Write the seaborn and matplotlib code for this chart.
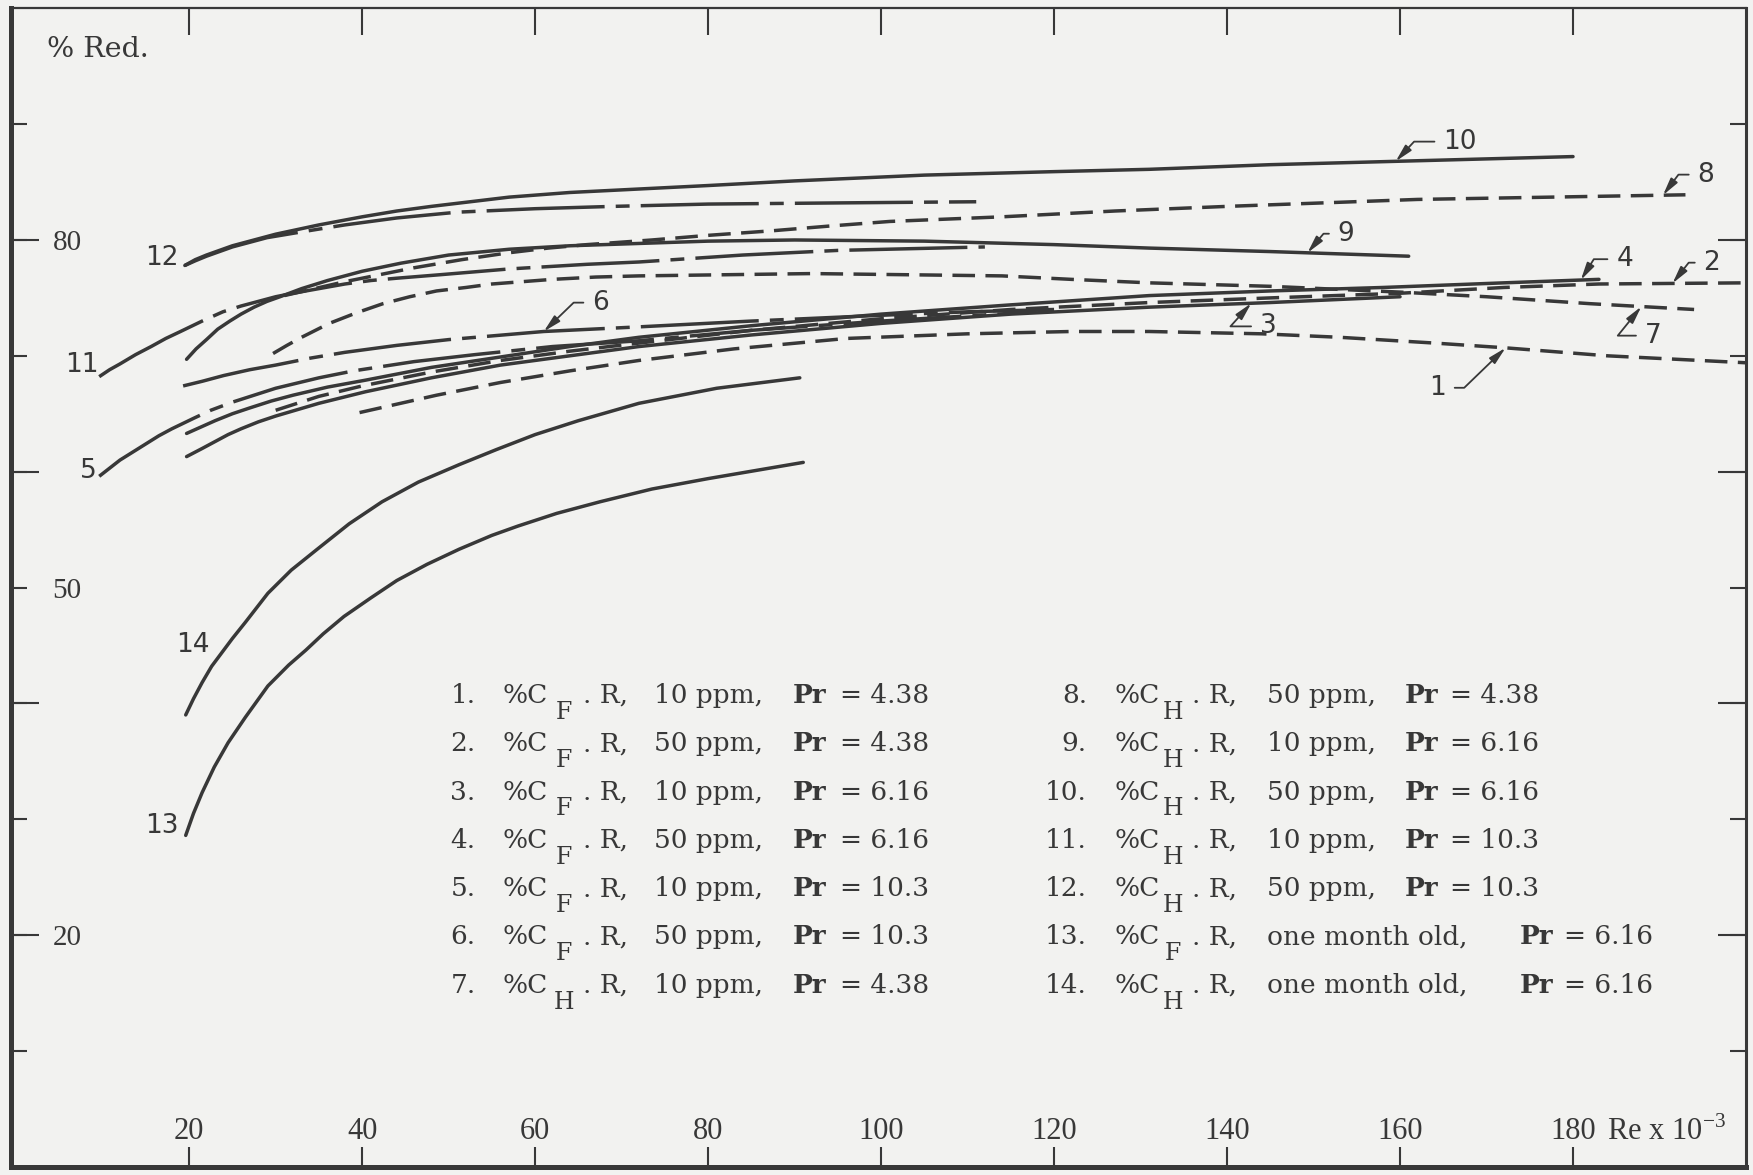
import numpy as np
import pandas as pd
import seaborn as sns
import matplotlib.pyplot as plt
from matplotlib.ticker import FixedLocator, FixedFormatter

sns.set_theme(style="white")
plt.rcParams['font.family'] = ['DejaVu Serif', 'DejaVu Sans']

ink = '#383838'
paper = '#f2f2f0'

# Re x 10^-3  vs  % reduction (one pair per curve)
re_1 = [39.7, 48.6, 56, 64, 72, 83, 96, 110, 122, 131, 144, 153, 164, 172, 184, 200]
red_1 = [65.1, 66.6, 67.7, 68.7, 69.6, 70.6, 71.5, 71.9, 72.1, 72.1, 71.9, 71.6, 71.1, 70.7, 70.0, 69.4]
re_2 = [30, 35, 40, 48, 56, 64, 72, 85, 100, 115, 131, 145, 160, 172, 183, 200]
red_2 = [65.3, 66.5, 67.4, 68.6, 69.6, 70.4, 71.1, 72.2, 73.2, 74.0, 74.6, 75.0, 75.4, 75.9, 76.2, 76.3]
re_3 = [19.7, 21.5, 23, 24.5, 26, 28, 30, 35, 40.4, 48, 56, 64, 72, 85, 100, 115, 131, 145, 160]
red_3 = [61.3, 62.0, 62.6, 63.2, 63.7, 64.3, 64.8, 65.9, 66.9, 68.1, 69.2, 70.0, 70.8, 71.8, 72.8, 73.6, 74.2, 74.6, 75.1]
re_4 = [19.7, 21.5, 23, 25, 27, 29.5, 32, 36, 40.4, 48, 56, 64, 72, 85, 100, 115, 131, 145, 158, 172, 183]
red_4 = [63.3, 63.9, 64.4, 65.0, 65.5, 66.1, 66.6, 67.3, 67.9, 69.0, 69.9, 70.8, 71.6, 72.6, 73.6, 74.4, 75.2, 75.6, 75.9, 76.3, 76.6]
re_5 = [9.6, 10.8, 12, 13.5, 15, 16.5, 18, 20.5, 22.5, 25, 27.5, 30, 35, 39, 46, 53, 62, 72, 85, 100, 118]
red_5 = [59.6, 60.3, 61.0, 61.7, 62.4, 63.1, 63.7, 64.6, 65.3, 66.0, 66.6, 67.2, 68.1, 68.7, 69.5, 70.1, 70.8, 71.3, 72.2, 73.0, 73.8]
re_6 = [19.3, 21.5, 24, 27, 30, 34, 38, 44, 50, 61, 72, 85, 100, 110, 120]
red_6 = [67.4, 67.8, 68.3, 68.8, 69.2, 69.8, 70.3, 70.9, 71.4, 72.1, 72.5, 73.0, 73.5, 73.8, 74.0]
re_7 = [29.7, 31.3, 33, 34.6, 36.2, 39.3, 42.4, 45.5, 48.6, 52, 55, 58.5, 62, 67, 72, 82, 92, 103, 114, 122, 131, 145, 160, 170, 182, 194]
red_7 = [70.2, 70.9, 71.6, 72.2, 72.8, 73.7, 74.5, 75.1, 75.6, 75.9, 76.2, 76.4, 76.6, 76.8, 76.9, 77.0, 77.1, 77.0, 76.9, 76.6, 76.3, 76.0, 75.5, 75.1, 74.5, 74.0]
re_8 = [31, 34.5, 38, 42, 46, 51.5, 57, 61.5, 66, 73.5, 80, 87.5, 94, 101, 114, 127, 140, 162, 193]
red_8 = [75.2, 75.8, 76.4, 77.0, 77.6, 78.3, 78.9, 79.3, 79.6, 80.0, 80.4, 80.8, 81.2, 81.6, 82.0, 82.5, 82.9, 83.5, 83.9]
re_9 = [19.7, 20.8, 22, 23.3, 24.7, 26, 27.5, 29, 30.5, 33, 36, 40, 44.5, 50, 57, 64, 72, 80, 90, 105, 120, 131, 145, 161]
red_9 = [69.7, 70.6, 71.4, 72.3, 73.0, 73.6, 74.2, 74.7, 75.1, 75.8, 76.5, 77.3, 78.0, 78.7, 79.2, 79.5, 79.7, 79.9, 80.0, 79.9, 79.6, 79.3, 79.0, 78.6]
re_10 = [19.5, 20.7, 22, 23.5, 25, 27.5, 30, 32.5, 35, 40, 44, 48, 52.5, 57, 64, 72, 80, 90, 105, 120, 131, 145, 160, 180]
red_10 = [77.8, 78.3, 78.7, 79.1, 79.5, 80.0, 80.5, 80.9, 81.3, 82.0, 82.5, 82.9, 83.3, 83.7, 84.1, 84.4, 84.7, 85.1, 85.6, 85.9, 86.1, 86.5, 86.8, 87.2]
re_11 = [9.6, 10.8, 12, 13.8, 15.6, 17.3, 19, 21.5, 23.9, 26, 28, 30, 32, 35, 38, 41, 44, 49, 57, 66, 72, 84, 95, 112]
red_11 = [68.2, 68.8, 69.3, 70.1, 70.8, 71.5, 72.1, 73.0, 73.8, 74.3, 74.7, 75.1, 75.4, 75.8, 76.2, 76.5, 76.7, 77.0, 77.5, 77.9, 78.1, 78.7, 79.1, 79.4]
re_12 = [19.5, 20.7, 22, 23.5, 25, 27, 29, 33, 38, 44, 51, 60, 69, 80, 95, 111]
red_12 = [77.8, 78.2, 78.6, 79.0, 79.4, 79.8, 80.2, 80.7, 81.3, 81.9, 82.4, 82.7, 82.9, 83.1, 83.2, 83.3]
re_13 = [19.6, 20.5, 21.5, 22.9, 24.5, 26.5, 29.1, 31.5, 33.5, 35.5, 37.9, 41, 44, 47.5, 51.2, 55, 58, 62.5, 67.5, 73.5, 80, 85.5, 91]
red_13 = [28.6, 30.5, 32.3, 34.5, 36.6, 38.8, 41.5, 43.3, 44.6, 46.0, 47.5, 49.1, 50.6, 52.0, 53.3, 54.5, 55.3, 56.4, 57.4, 58.5, 59.4, 60.1, 60.8]
re_14 = [19.6, 20.5, 21.5, 22.6, 23.8, 25, 26.5, 29.1, 31.8, 34.8, 38.5, 42.3, 46.5, 51.2, 55.5, 60, 65, 72, 81, 90.6]
red_14 = [39.0, 40.4, 41.8, 43.2, 44.4, 45.6, 47.0, 49.5, 51.5, 53.3, 55.5, 57.4, 59.1, 60.6, 61.9, 63.2, 64.4, 65.9, 67.2, 68.1]

# what each curve is (legend block)
curve_coef = ['F', 'F', 'F', 'F', 'F', 'F', 'H', 'H', 'H', 'H', 'H', 'H', 'F', 'H']
curve_cond = ['10 ppm,', '50 ppm,', '10 ppm,', '50 ppm,', '10 ppm,', '50 ppm,', '10 ppm,',
              '50 ppm,', '10 ppm,', '50 ppm,', '10 ppm,', '50 ppm,', 'one month old,', 'one month old,']
curve_pr = ['4.38', '4.38', '6.16', '6.16', '10.3', '10.3', '4.38',
            '4.38', '6.16', '6.16', '10.3', '10.3', '6.16', '6.16']

x_ticks = [20, 40, 60, 80, 100, 120, 140, 160, 180]
y_ticks = [10, 20, 30, 40, 50, 60, 70, 80, 90]
y_tick_labels = ['', '20', '', '', '50', '', '', '80', '']

re_all = [re_1, re_2, re_3, re_4, re_5, re_6, re_7, re_8, re_9, re_10, re_11, re_12, re_13, re_14]
red_all = [red_1, red_2, red_3, red_4, red_5, red_6, red_7, red_8, red_9, red_10, red_11, red_12, red_13, red_14]

frames = []
for i, (xs, ys) in enumerate(zip(re_all, red_all)):
    frames.append(pd.DataFrame({'curve': i + 1, 'Re': xs, 'red': ys, 'Pr': curve_pr[i]}))
df = pd.concat(frames, ignore_index=True)

fig = plt.figure(figsize=(17.53, 11.75), dpi=100, facecolor=paper)
ax = fig.add_axes([11 / 1753, 8.3 / 1175, 1735 / 1753, 1158.4 / 1175])
ax.set_facecolor(paper)

sns.lineplot(data=df, x='Re', y='red', units='curve', estimator=None, sort=False,
             style='Pr', style_order=['4.38', '10.3', '6.16'],
             dashes={'4.38': (6.5, 3.0), '10.3': (34, 3.2, 4, 3.2), '6.16': ''},
             color=ink, lw=2.5, legend=False, ax=ax,
             dash_capstyle='butt', solid_capstyle='round', solid_joinstyle='round')

ax.set_xlim(-0.6, 200)
ax.set_ylim(0, 100)
ax.set_xlabel('')
ax.set_ylabel('')

for side, w in [('left', 3.6), ('bottom', 3.6), ('top', 1.6), ('right', 2.2)]:
    ax.spines[side].set_visible(True)
    ax.spines[side].set_color(ink)
    ax.spines[side].set_linewidth(w)

# x: bottom ticks with labels inside, top ticks a bit longer
ax.xaxis.remove_overlapping_locs = False
ax.xaxis.set_major_locator(FixedLocator(x_ticks))
ax.xaxis.set_major_formatter(FixedFormatter([str(v) for v in x_ticks]))
ax.xaxis.set_minor_locator(FixedLocator(x_ticks))
ax.tick_params(axis='x', which='major', direction='in', bottom=True, top=False,
               length=14.4, width=1.5, color=ink, pad=-27.9, labelsize=22,
               labelcolor=ink, labelfontfamily='Liberation Serif')
ax.tick_params(axis='x', which='minor', direction='in', bottom=False, top=True,
               length=19.5, width=1.5, color=ink)
for lab in ax.get_xticklabels():
    lab.set_verticalalignment('center_baseline')

# y: short ticks every 10, longer ones every 20, on both sides
ax.yaxis.remove_overlapping_locs = False
ax.yaxis.set_major_locator(FixedLocator(y_ticks))
ax.yaxis.set_major_formatter(FixedFormatter(y_tick_labels))
ax.yaxis.set_minor_locator(FixedLocator(y_ticks[1::2]))
ax.tick_params(axis='y', which='major', direction='in', left=True, right=True,
               length=11.5, width=1.5, color=ink, pad=-30, labelsize=21,
               labelcolor=ink, labelfontfamily='Liberation Serif')
ax.tick_params(axis='y', which='minor', direction='in', left=True, right=True,
               length=20, width=1.5, color=ink)
for lab in ax.get_yticklabels():
    lab.set_horizontalalignment('left')

ax.text(3.6, 96.7, '% Red.', fontsize=20.5, color=ink, ha='left', va='center_baseline')
ax.text(183.9, 3.34, r'Re x 10$^{\mathregular{-3}}$', fontsize=22, color=ink,
        family='Liberation Serif', ha='left', va='center_baseline')

# curve numbers at the start of the left-hand curves
for txt, x, y in [('12', 16.8, 78.7), ('11', 7.6, 69.5), ('5', 8.3, 60.3),
                  ('14', 20.4, 45.3), ('13', 16.9, 29.7)]:
    ax.text(x, y, txt, fontsize=19, color=ink, family='DejaVu Sans',
            ha='center', va='center_baseline')

# curve numbers with leader arrows
tags = [(10, 159.5, 165.0, 88.75, 'left', 47), (8, 190.4, 194.4, 85.9, 'left', 53),
        (9, 149.3, 152.8, 80.8, 'left', 50), (4, 180.9, 185.0, 78.6, 'left', 58),
        (2, 191.5, 195.1, 78.3, 'left', 52), (6, 61.0, 66.6, 74.85, 'left', 44),
        (1, 172.2, 165.3, 67.5, 'right', 44), (7, 187.9, 188.3, 72.0, 'left', 51),
        (3, 142.8, 143.8, 72.8, 'left', 48)]
for k, tip_x, tx, ty, ha, ang in tags:
    tip_y = np.interp(tip_x, re_all[k - 1], red_all[k - 1])
    ax.annotate(str(k), xy=(tip_x, tip_y), xytext=(tx, ty), fontsize=19, color=ink,
                family='DejaVu Sans', ha=ha, va='center_baseline',
                arrowprops=dict(arrowstyle='-|>,head_length=0.55,head_width=0.13',
                                connectionstyle=f'angle,angleA=0,angleB={ang},rad=0',
                                color=ink, lw=1.3, shrinkA=4, shrinkB=0))

# legend block, two columns of seven rows
cols = [dict(num=50.2, num_ha='left', pct=56.2, sub=63.3, dot=65.5, cond=73.8, pr=89.8, eq=95.2),
        dict(num=123.8, num_ha='right', pct=127.0, sub=133.7, dot=135.9, cond=144.6, pr=160.6, eq=165.8)]
for k in range(14):
    c = cols[k // 7]
    y = 40.9 - 4.17 * (k % 7)
    shift = 13.2 if curve_cond[k].startswith('one') else 0
    ax.text(c['num'], y, f'{k + 1}.', fontsize=19, color=ink, ha=c['num_ha'], va='center_baseline')
    ax.text(c['pct'], y, '%C', fontsize=19, color=ink, ha='left', va='center_baseline')
    ax.text(c['sub'], y - 1.45, curve_coef[k], fontsize=17, color=ink, ha='center', va='center_baseline')
    ax.text(c['dot'], y, '. R,', fontsize=19, color=ink, ha='left', va='center_baseline')
    ax.text(c['cond'], y, curve_cond[k], fontsize=19, color=ink, ha='left', va='center_baseline')
    ax.text(c['pr'] + shift, y, 'Pr', fontsize=19, color=ink, weight='bold', ha='left', va='center_baseline')
    ax.text(c['eq'] + shift, y, '= ' + curve_pr[k], fontsize=19, color=ink, ha='left', va='center_baseline')

fig.savefig('out.png', dpi=100, facecolor=paper)
